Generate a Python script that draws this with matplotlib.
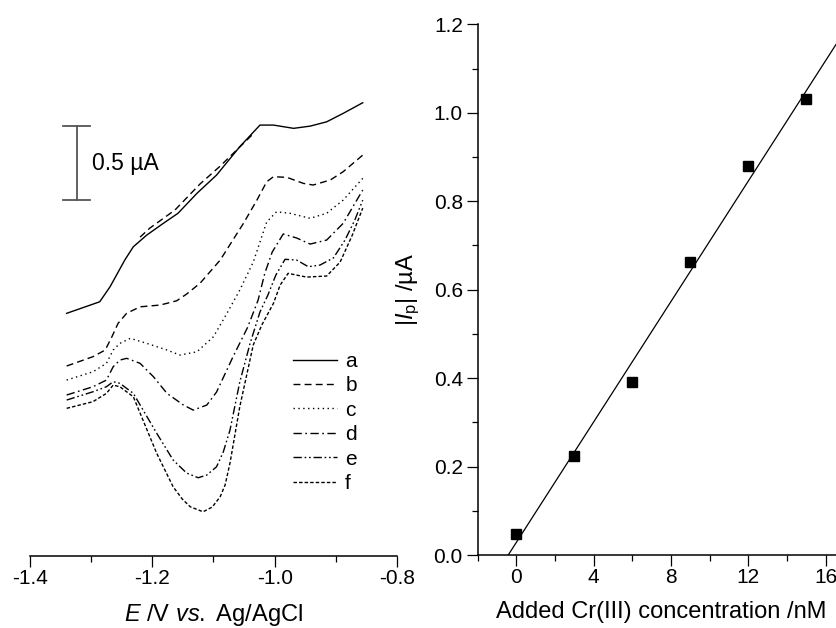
import numpy as np
import matplotlib
matplotlib.use('Agg')
import matplotlib.pyplot as plt

plt.rcParams['font.family'] = ['Liberation Sans', 'DejaVu Sans']
plt.rcParams['mathtext.fontset'] = 'custom'
plt.rcParams['mathtext.rm'] = 'Liberation Sans'
plt.rcParams['mathtext.it'] = 'Liberation Sans:italic'
plt.rcParams['lines.scale_dashes'] = False

# Voltammograms (potential in V, current in uA, arbitrary offset)
E_a = [-1.340, -1.286, -1.269, -1.245, -1.231, -1.209, -1.182, -1.158, -1.127, -1.095,
       -1.057, -1.024, -1.002, -0.969, -0.942, -0.915, -0.888, -0.856]
I_a = [1.640, 1.718, 1.820, 2.000, 2.090, 2.169, 2.248, 2.316, 2.451, 2.574,
       2.766, 2.912, 2.912, 2.890, 2.905, 2.934, 2.991, 3.063]

# short dashed trace lying over curve a
E_b0 = [-1.220, -1.204, -1.163, -1.122, -1.089, -1.057, -1.037]
I_b0 = [2.155, 2.216, 2.338, 2.514, 2.635, 2.764, 2.845]

E_b = [-1.340, -1.297, -1.277, -1.266, -1.256, -1.242, -1.220, -1.187, -1.160, -1.144, -1.122,
       -1.089, -1.051, -1.029, -1.013, -1.002, -0.980, -0.953, -0.937, -0.909, -0.888, -0.856]
I_b = [1.284, 1.347, 1.392, 1.482, 1.572, 1.640, 1.684, 1.696, 1.725, 1.770, 1.843,
       2.000, 2.248, 2.405, 2.529, 2.563, 2.559, 2.518, 2.507, 2.541, 2.597, 2.709]

E_c = [-1.340, -1.297, -1.275, -1.264, -1.253, -1.236, -1.209, -1.176, -1.155, -1.127, -1.100,
       -1.078, -1.057, -1.035, -1.013, -0.997, -0.975, -0.942, -0.915, -0.888, -0.856]
I_c = [1.189, 1.245, 1.302, 1.392, 1.437, 1.471, 1.437, 1.392, 1.358, 1.380, 1.482,
       1.640, 1.797, 1.986, 2.257, 2.326, 2.316, 2.282, 2.316, 2.405, 2.552]

E_d = [-1.340, -1.297, -1.275, -1.264, -1.253, -1.242, -1.220, -1.198, -1.176, -1.149, -1.133,
       -1.111, -1.095, -1.068, -1.044, -1.027, -1.016, -1.004, -0.986, -0.964, -0.942, -0.915,
       -0.888, -0.856]
I_d = [1.088, 1.144, 1.189, 1.279, 1.324, 1.336, 1.302, 1.211, 1.099, 1.020, 0.986,
       1.020, 1.108, 1.347, 1.547, 1.730, 1.912, 2.054, 2.176, 2.149, 2.108, 2.135,
       2.248, 2.473]

E_e = [-1.340, -1.297, -1.275, -1.264, -1.253, -1.231, -1.215, -1.193, -1.166, -1.144, -1.125,
       -1.111, -1.095, -1.084, -1.073, -1.057, -1.040, -1.024, -1.011, -0.998, -0.983, -0.964,
       -0.945, -0.926, -0.904, -0.885, -0.869, -0.856]
I_e = [1.054, 1.110, 1.144, 1.178, 1.167, 1.099, 0.986, 0.831, 0.649, 0.561, 0.529,
       0.547, 0.603, 0.703, 0.851, 1.176, 1.439, 1.649, 1.764, 1.899, 2.005, 2.000,
       1.955, 1.966, 2.014, 2.135, 2.270, 2.405]

E_f = [-1.340, -1.297, -1.275, -1.264, -1.253, -1.231, -1.220, -1.193, -1.166, -1.151, -1.138,
       -1.117, -1.102, -1.089, -1.081, -1.073, -1.057, -1.035, -1.021, -1.002, -0.991, -0.978,
       -0.948, -0.915, -0.893, -0.873, -0.856]
I_f = [0.998, 1.043, 1.099, 1.155, 1.144, 1.076, 0.966, 0.696, 0.468, 0.385, 0.333,
       0.299, 0.331, 0.401, 0.480, 0.628, 1.009, 1.426, 1.561, 1.707, 1.831, 1.910,
       1.885, 1.892, 1.986, 2.169, 2.351]

# Calibration data
conc = [0, 3, 6, 9, 12, 15]
ip = [0.047, 0.225, 0.392, 0.662, 0.880, 1.030]

fig = plt.figure(figsize=(8.37, 6.28), dpi=100)

# ---- left panel: voltammograms
ax1 = fig.add_axes([0.0358, 0.1146, 0.4385, 0.8467])
lw = 1.0
ax1.plot(E_a, I_a, color='black', lw=lw, label='a')
ax1.plot(E_b0, I_b0, color='black', lw=lw, ls=(0, (5, 3)))
ax1.plot(E_b, I_b, color='black', lw=lw, ls=(0, (5, 3)), label='b')
ax1.plot(E_c, I_c, color='black', lw=lw, ls=(0, (1, 2.5)), label='c')
ax1.plot(E_d, I_d, color='black', lw=lw, ls=(0, (6, 2.5, 1.2, 2.5)), label='d')
ax1.plot(E_e, I_e, color='black', lw=lw, ls=(0, (6, 2, 1.2, 2, 1.2, 2)), label='e')
ax1.plot(E_f, I_f, color='black', lw=lw, ls=(0, (2.5, 1.5)), label='f')

# scale bar
bar_x = -1.3236
bar_y0, bar_h = 2.405, 0.5
ax1.plot([bar_x, bar_x], [bar_y0, bar_y0 + bar_h], color='#555555', lw=1.3)
for yy in (bar_y0, bar_y0 + bar_h):
    ax1.plot([bar_x - 0.0217, bar_x + 0.0217], [yy, yy], color='#555555', lw=1.3)
ax1.text(-1.298, bar_y0 + bar_h / 2, '0.5 µA', fontsize=16.5, va='center', ha='left')

ax1.set_xlim(-1.4, -0.8)
ax1.set_ylim(0, 3.593)
for s in ['top', 'right', 'left']:
    ax1.spines[s].set_visible(False)
ax1.spines['bottom'].set_linewidth(1.1)
ax1.set_yticks([])
ax1.set_xticks([-1.4, -1.2, -1.0, -0.8])
ax1.set_xticklabels(['-1.4', '-1.2', '-1.0', '-0.8'])
ax1.set_xticks([-1.3, -1.1, -0.9], minor=True)
ax1.tick_params(axis='x', which='major', direction='out', length=7.7, width=0.9,
                labelsize=15, pad=1.5)
ax1.tick_params(axis='x', which='minor', direction='out', length=4, width=0.9)
ax1.set_xlabel(r'$E$ /V $vs.$ Ag/AgCl', fontsize=17, labelpad=10.5)

ax1.legend(loc='upper left', bbox_to_anchor=(0.717, 0.384), frameon=False, fontsize=15,
           handlelength=2.1, handletextpad=0.4, labelspacing=0.26, borderpad=0,
           borderaxespad=0)

# ---- right panel: calibration
ax2 = fig.add_axes([0.5707, 0.1162, 0.4389, 0.8451])
slope, intercept = np.polyfit(conc, ip, 1)
x_fit = np.array([-intercept / slope, 17])
ax2.plot(x_fit, slope * x_fit + intercept, color='black', lw=0.9)
ax2.plot(conc, ip, 's', color='black', markersize=6.5)
ax2.set_xlim(-2, 17)
ax2.set_ylim(0, 1.2)
for s in ['top', 'right']:
    ax2.spines[s].set_visible(False)
for s in ['left', 'bottom']:
    ax2.spines[s].set_linewidth(1.1)
ax2.set_xticks([0, 4, 8, 12, 16])
ax2.set_xticks([-2, 2, 6, 10, 14], minor=True)
ax2.set_yticks([0.0, 0.2, 0.4, 0.6, 0.8, 1.0, 1.2])
ax2.set_yticklabels(['0.0', '0.2', '0.4', '0.6', '0.8', '1.0', '1.2'])
ax2.set_yticks([0.1, 0.3, 0.5, 0.7, 0.9, 1.1], minor=True)
ax2.tick_params(which='major', direction='out', length=7.7, width=0.9, labelsize=15)
ax2.tick_params(which='minor', direction='out', length=4, width=0.9)
ax2.tick_params(axis='x', which='major', pad=1.5)
ax2.tick_params(axis='y', which='major', pad=3)
ax2.set_xlabel('Added Cr(III) concentration /nM', fontsize=17, labelpad=10.5)
ax2.set_ylabel(r'$|I_{\mathrm{p}}|$ /µA', fontsize=17, labelpad=8)

fig.savefig('out.png', dpi=100)
